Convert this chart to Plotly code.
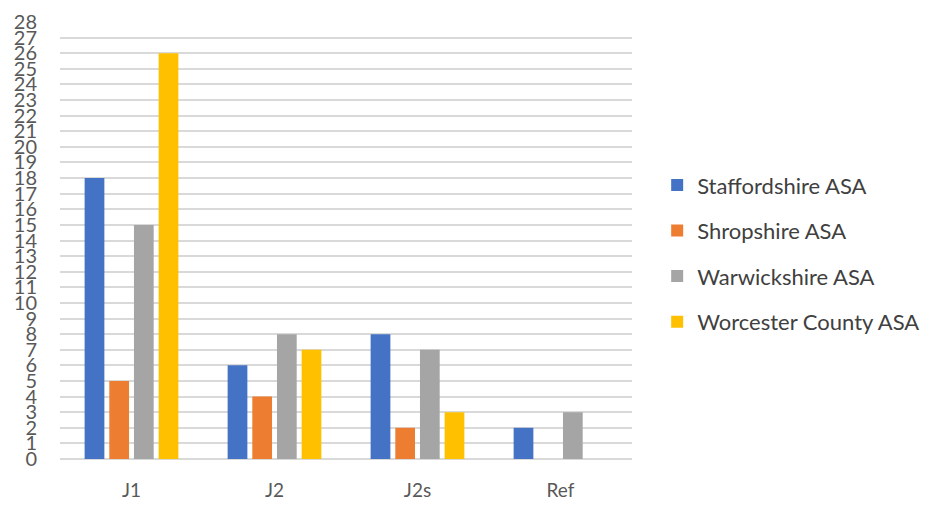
import plotly.graph_objects as go

categories = ["J1", "J2", "J2s", "Ref"]
series_names = ["Staffordshire ASA", "Shropshire ASA", "Warwickshire ASA", "Worcester County ASA"]
staffordshire = [18, 6, 8, 2]
shropshire = [5, 4, 2, 0]
warwickshire = [15, 8, 7, 3]
worcester = [26, 7, 3, 0]
colors = ["#4472C4", "#ED7D31", "#A5A5A5", "#FFC000"]
y_ticks = list(range(0, 29))

fig = go.Figure()
for i, (name, vals) in enumerate(zip(series_names, [staffordshire, shropshire, warwickshire, worcester])):
    fig.add_trace(go.Bar(
        x=categories, y=vals, name=name,
        marker=dict(color=colors[i], line=dict(width=0)),
        legendgroup=name,
    ))

fig.update_layout(
    width=936, height=506,
    margin=dict(l=52, r=312, t=14, b=55, autoexpand=False),
    paper_bgcolor="white", plot_bgcolor="white",
    barmode="group", bargap=0.31, bargroupgap=0.2,
    font=dict(family="Lato, Open Sans, sans-serif", color="#595959"),
    showlegend=True,
    legend=dict(
        x=1.044, y=0.47, xanchor="left", yanchor="middle",
        font=dict(size=22, color="#404040"),
        traceorder="grouped", tracegroupgap=14,
        itemwidth=30,
    ),
    xaxis=dict(
        tickfont=dict(size=19, color="#595959"),
        showgrid=False, showline=False, ticks="",
        ticklabelstandoff=18, automargin=False,
    ),
    yaxis=dict(
        range=[0, 28], tickmode="array", tickvals=y_ticks,
        ticktext=[str(v) for v in y_ticks],
        tickfont=dict(size=20, color="#595959"),
        showgrid=True, gridcolor="#D9D9D9", gridwidth=2,
        zeroline=True, zerolinecolor="#D9D9D9", zerolinewidth=2,
        showline=False, ticks="", ticklabelstandoff=22,
        automargin=False, ticklabeloverflow="allow",
    ),
)

fig.write_html("out.html")
